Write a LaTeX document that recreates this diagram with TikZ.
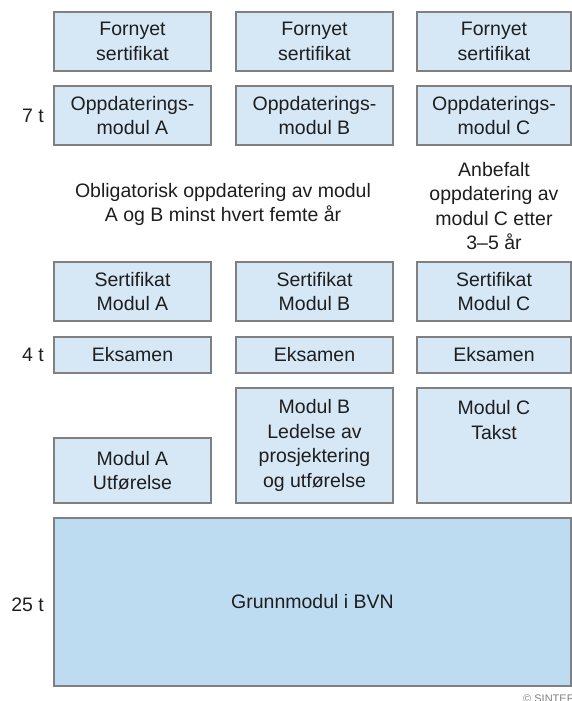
\documentclass[tikz,border=0pt]{standalone}
\usepackage{fontspec}
\setmainfont{Liberation Sans}
\definecolor{boxfill}{RGB}{214,232,246}
\definecolor{basefill}{RGB}{190,220,241}
\definecolor{boxline}{RGB}{128,128,128}
\definecolor{txt}{RGB}{30,30,30}
\tikzset{
  mbox/.style={draw=boxline, fill=boxfill, line width=1.1pt, inner sep=0pt, align=center,
    text=txt, font=\fontsize{19.5}{24.5}\selectfont},
  basebox/.style={mbox, fill=basefill},
  plain/.style={inner sep=0pt, align=center, text=txt, font=\fontsize{19.5}{24.5}\selectfont},
  hrs/.style={inner sep=0pt, anchor=east, text=txt, font=\fontsize{19.5}{24.5}\selectfont},
}
\begin{document}
\begin{tikzpicture}[x=1pt,y=-1pt]
\useasboundingbox (0,0) rectangle (572,701);
% row 1: Fornyet sertifikat
\node[mbox, minimum width=157pt, minimum height=59pt] (fa) at (132.5,41.5) {Fornyet\\sertifikat};
\node[mbox, minimum width=157pt, minimum height=59pt] (fb) at (314.5,41.5) {Fornyet\\sertifikat};
\node[mbox, minimum width=154pt, minimum height=59pt] (fc) at (494,41.5) {Fornyet\\sertifikat};
% row 2: Oppdateringsmodul
\node[mbox, minimum width=157pt, minimum height=59pt] (oa) at (132.5,115.5) {Oppdaterings-\\modul A};
\node[mbox, minimum width=157pt, minimum height=59pt] (ob) at (314.5,115.5) {Oppdaterings-\\modul B};
\node[mbox, minimum width=154pt, minimum height=59pt] (oc) at (494,115.5) {Oppdaterings-\\modul C};
\node[hrs] (t7) at (44,115.5) {7 t};
% middle texts
\node[plain] (oblig) at (223,204.5) {Obligatorisk oppdatering av modul\\A og B minst hvert femte år};
\node[plain] (anbef) at (494,206) {Anbefalt\\oppdatering av\\modul C etter\\3–5 år};
% row 3: Sertifikat
\node[mbox, minimum width=157pt, minimum height=59pt] (sa) at (132.5,291.5) {Sertifikat\\Modul A};
\node[mbox, minimum width=157pt, minimum height=59pt] (sb) at (314.5,291.5) {Sertifikat\\Modul B};
\node[mbox, minimum width=154pt, minimum height=59pt] (sc) at (494,291.5) {Sertifikat\\Modul C};
% row 4: Eksamen
\node[mbox, minimum width=157pt, minimum height=36pt] (ea) at (132.5,355) {Eksamen};
\node[mbox, minimum width=157pt, minimum height=36pt] (eb) at (314.5,355) {Eksamen};
\node[mbox, minimum width=154pt, minimum height=36pt] (ec) at (494,355) {Eksamen};
\node[hrs] (t4) at (44,355) {4 t};
% row 5: modules
\node[mbox, minimum width=157pt, minimum height=65pt] (ma) at (132.5,470.5) {Modul A\\Utførelse};
\node[mbox, minimum width=157pt, minimum height=115pt] (mb) at (314.5,445.5) {Modul B\\Ledelse av\\prosjektering\\og utførelse};
\node[mbox, minimum width=154pt, minimum height=115pt] (mc) at (494,445.5) {};
\node[plain, anchor=north] (mctext) at ([yshift=-13pt]mc.north) {Modul C\\Takst};
% base module
\node[basebox, minimum width=517pt, minimum height=168pt] (gm) at (312.5,602) {Grunnmodul i BVN};
\node[hrs] (t25) at (44,605) {25 t};
% copyright
\node[inner sep=0pt, anchor=north west, text=gray, font=\fontsize{11}{13}\selectfont] (copy) at (523,695) {© SINTEF};
\end{tikzpicture}
\end{document}
